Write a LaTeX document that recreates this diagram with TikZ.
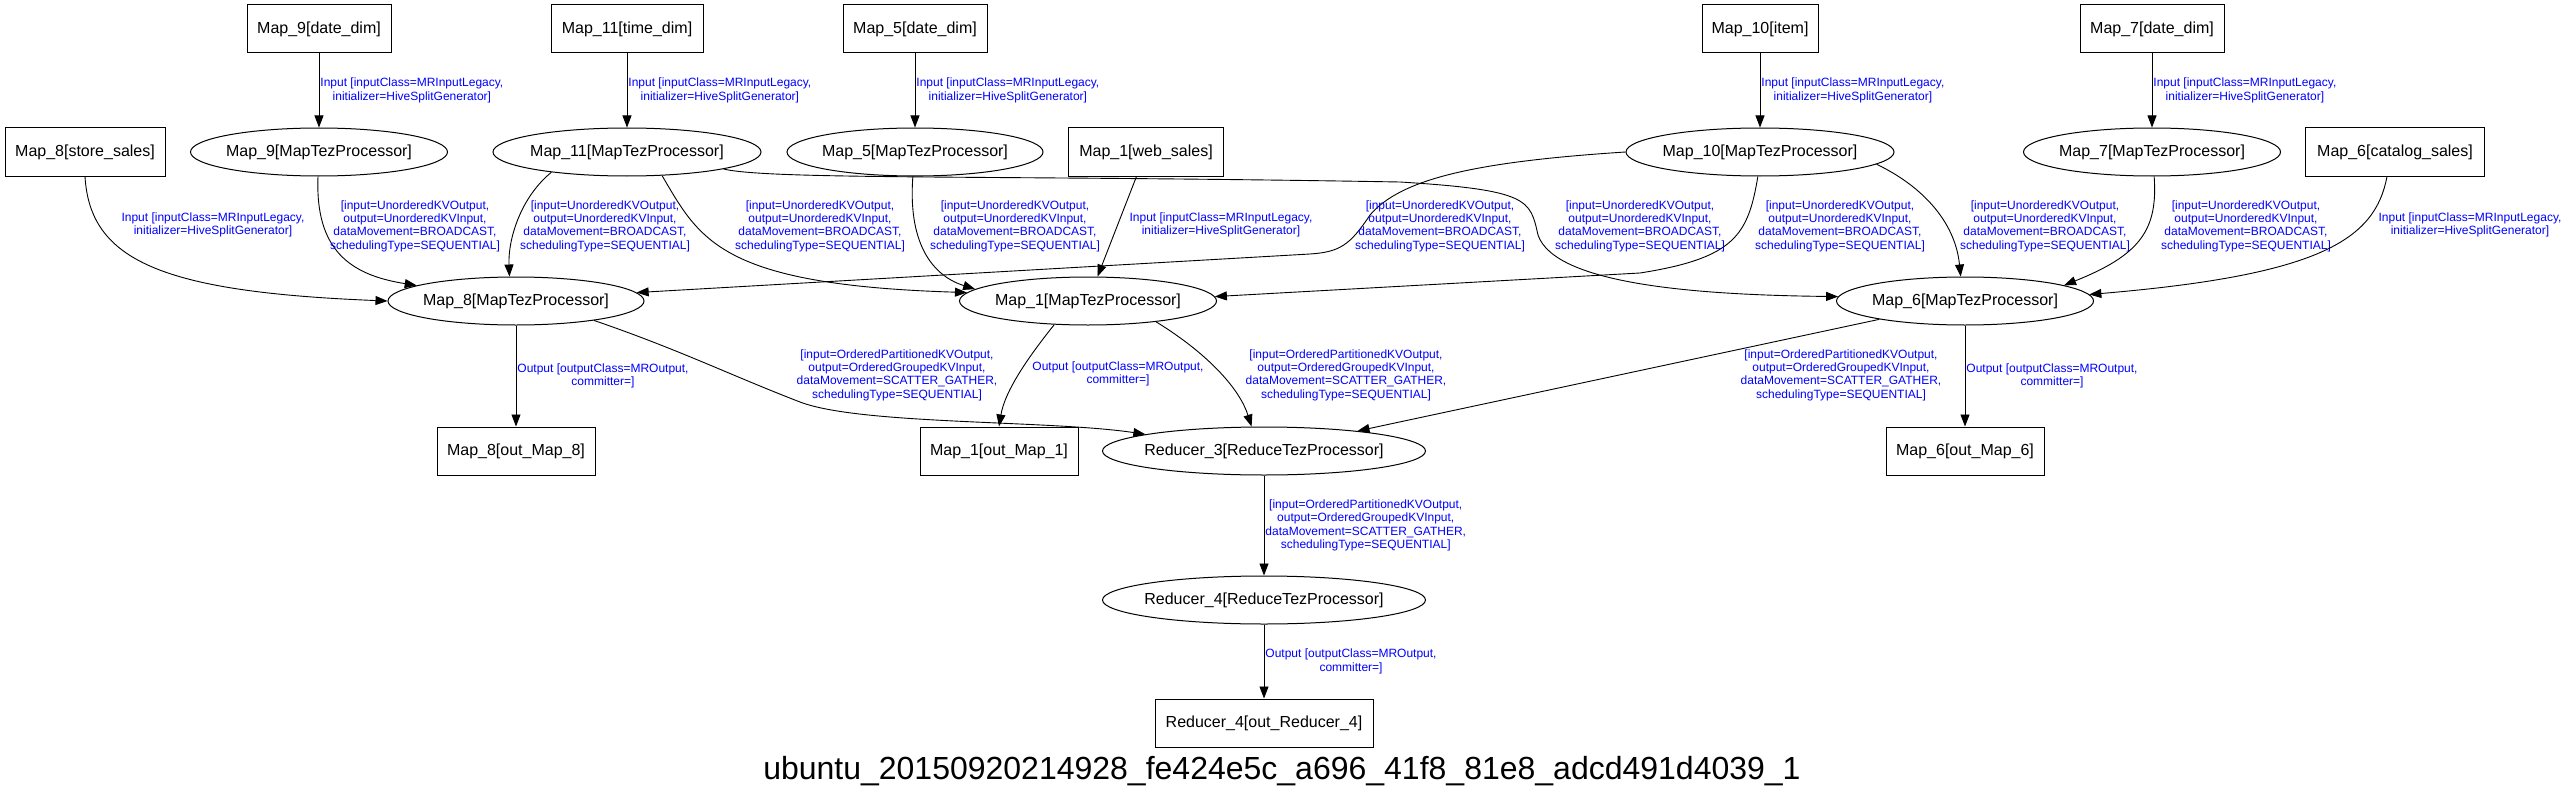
\documentclass[tikz,border=0pt]{standalone}
\usepackage{fontspec}
\setmainfont{Liberation Sans}
\usetikzlibrary{arrows.meta, shapes.geometric}

\newcommand{\inputlbl}{Input [inputClass=MRInputLegacy,\\ initializer=HiveSplitGenerator]}
\newcommand{\bcastlbl}{[input=UnorderedKVOutput,\\ output=UnorderedKVInput,\\ dataMovement=BROADCAST,\\ schedulingType=SEQUENTIAL]}
\newcommand{\sglbl}{[input=OrderedPartitionedKVOutput,\\ output=OrderedGroupedKVInput,\\ dataMovement=SCATTER\_GATHER,\\ schedulingType=SEQUENTIAL]}
\newcommand{\outputlbl}{Output [outputClass=MROutput,\\ committer=]}

\begin{document}
\begin{tikzpicture}[x=1pt, y=-1pt,
  box/.style={draw, rectangle, line width=1pt, minimum height=48pt, inner sep=0pt, font=\fontsize{16}{19}\selectfont},
  proc/.style={draw, ellipse, line width=1pt, minimum height=48pt, inner xsep=-10pt, inner ysep=0pt, font=\fontsize{16}{19}\selectfont},
  link/.style={-{Triangle[length=12pt,width=9pt]}, line width=0.9pt},
  lbl/.style={text=blue, align=center, inner sep=1pt, font=\fontsize{12}{13.3}\selectfont}]
\useasboundingbox (0,0) rectangle (2569,797);
% Sources
\node[box, minimum width=144pt] (m9src) at (319,29) {Map\_9[date\_dim]};
\node[box, minimum width=152pt] (m11src) at (627,29) {Map\_11[time\_dim]};
\node[box, minimum width=144pt] (m5src) at (915,29) {Map\_5[date\_dim]};
\node[box, minimum width=116pt] (m10src) at (1760,29) {Map\_10[item]};
\node[box, minimum width=144pt] (m7src) at (2152,29) {Map\_7[date\_dim]};
\node[box, minimum width=160pt] (m8src) at (85,152) {Map\_8[store\_sales]};
\node[box, minimum width=155pt] (m1src) at (1146,152) {Map\_1[web\_sales]};
\node[box, minimum width=179pt] (m6src) at (2395,152) {Map\_6[catalog\_sales]};
% Processors
\node[proc, minimum width=257pt] (m9) at (319,152) {Map\_9[MapTezProcessor]};
\node[proc, minimum width=268pt] (m11) at (627,152) {Map\_11[MapTezProcessor]};
\node[proc, minimum width=256pt] (m5) at (915,152) {Map\_5[MapTezProcessor]};
\node[proc, minimum width=268pt] (m10) at (1760,152) {Map\_10[MapTezProcessor]};
\node[proc, minimum width=257pt] (m7) at (2152,152) {Map\_7[MapTezProcessor]};
\node[proc, minimum width=256pt] (m8) at (516,301) {Map\_8[MapTezProcessor]};
\node[proc, minimum width=257pt] (m1) at (1088,301) {Map\_1[MapTezProcessor]};
\node[proc, minimum width=257pt] (m6) at (1965,301) {Map\_6[MapTezProcessor]};
\node[proc, minimum width=323pt] (r3) at (1264,451) {Reducer\_3[ReduceTezProcessor]};
\node[proc, minimum width=323pt] (r4) at (1264,600) {Reducer\_4[ReduceTezProcessor]};
% Sinks
\node[box, minimum width=158pt] (m8out) at (516,451) {Map\_8[out\_Map\_8]};
\node[box, minimum width=158pt] (m1out) at (999,451) {Map\_1[out\_Map\_1]};
\node[box, minimum width=158pt] (m6out) at (1965,451) {Map\_6[out\_Map\_6]};
\node[box, minimum width=218pt] (r4out) at (1264,723) {Reducer\_4[out\_Reducer\_4]};
\node[font=\fontsize{32}{38}\selectfont, anchor=base] (title) at (1282,779) {ubuntu\_20150920214928\_fe424e5c\_a696\_41f8\_81e8\_adcd491d4039\_1};
% Inputs into processors
\foreach \s/\t in {m9src/m9, m11src/m11, m5src/m5, m10src/m10, m7src/m7}
  \draw[link] (\s) -- (\t) node[lbl, midway, anchor=west] (lin\t) {\inputlbl};
% Into Map_8
\draw[link] (m8src.south) .. controls (90,260) and (160,292) .. (m8.west) node[lbl] (lin8) at (213,225) {\inputlbl};
\draw[link] (m9) .. controls (315,250) and (350,275) .. (m8) node[lbl] (l98) at (415,226) {\bcastlbl};
\draw[link] (m11.195) .. controls (520,198) and (508,240) .. (m8.105) node[lbl] (l118) at (605,226) {\bcastlbl};
\draw[link] (m10.west) .. controls (1470,162) and (1400,180) .. (1370,215) .. controls (1350,245) and (1340,252) .. (1310,254) -- (m8.4) node[lbl] (l108) at (1440,226) {\bcastlbl};
% Into Map_1
\draw[link] (m11.326) .. controls (700,240) and (720,285) .. (m1.176) node[lbl] (l111) at (820,226) {\bcastlbl};
\draw[link] (m5.265) .. controls (908,240) and (930,275) .. (m1.174) node[lbl] (l51) at (1015,226) {\bcastlbl};
\draw[link] (m1src) -- (m1) node[lbl] (lin1) at (1221,225) {\inputlbl};
\draw[link] (m10.265) .. controls (1748,235) and (1735,258) .. (1640,273) -- (m1.2) node[lbl] (l101) at (1840,226) {\bcastlbl};
% Into Map_6
\draw[link] (m11.350) .. controls (770,180) and (1000,175) .. (1400,182) .. controls (1530,190) and (1530,200) .. (1538,235) .. controls (1555,285) and (1700,295) .. (m6.178) node[lbl] (l116) at (1640,226) {\bcastlbl};
\draw[link] (m10.354) .. controls (1920,185) and (1955,220) .. (m6.100) node[lbl] (l106) at (2045,226) {\bcastlbl};
\draw[link] (m7.275) .. controls (2158,230) and (2140,255) .. (m6.9) node[lbl] (l76) at (2246,226) {\bcastlbl};
\draw[link] ([xshift=-8pt]m6src.south) .. controls (2375,240) and (2320,275) .. (m6.3) node[lbl] (lin6) at (2470,225) {\inputlbl};
% Outputs and reducers
\draw[link] (m8) -- (m8out) node[lbl, midway, anchor=west] (lo8) {\outputlbl};
\draw[link] (m8.346) .. controls (680,350) and (730,375) .. (800,402) .. controls (860,425) and (1050,420) .. (r3.172) node[lbl] (l83) at (897,375) {\sglbl};
\draw[link] (m1.215) .. controls (1030,355) and (1005,390) .. (m1out.north) node[lbl, anchor=west] (lo1) at (1031,374) {\outputlbl};
\draw[link] (m1.343) .. controls (1210,355) and (1240,390) .. (r3.117) node[lbl] (l13) at (1346,375) {\sglbl};
\draw[link] (m6) -- (r3) node[lbl] (l63) at (1841,375) {\sglbl};
\draw[link] (m6) -- (m6out) node[lbl, midway, anchor=west] (lo6) {\outputlbl};
\draw[link] (r3) -- (r4) node[lbl, midway, anchor=west] (l34) {\sglbl};
\draw[link] (r4) -- (r4out) node[lbl, midway, anchor=west] (lo4) {\outputlbl};
\end{tikzpicture}
\end{document}
